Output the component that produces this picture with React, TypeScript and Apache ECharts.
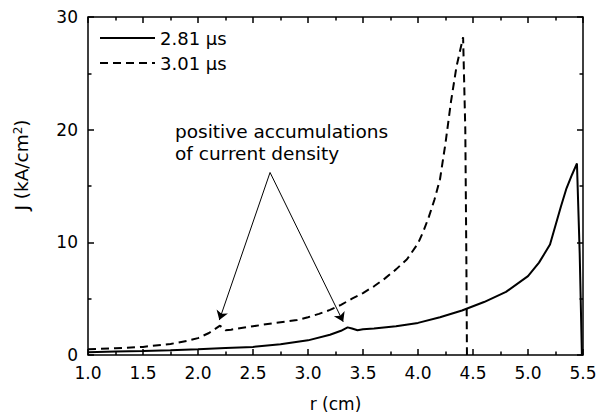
import React, { useEffect, useRef } from "react";
import * as echarts from "echarts";

// Series at 2.81 μs (solid)
const rSolid = [1.0, 1.25, 1.5, 1.75, 2.0, 2.25, 2.5, 2.75, 3.0, 3.2, 3.3, 3.36, 3.4, 3.45, 3.5, 3.6, 3.8, 4.0, 4.2, 4.4, 4.6, 4.8, 5.0, 5.1, 5.2, 5.3, 5.35, 5.4, 5.445, 5.47, 5.49];
const jSolid = [0.25, 0.3, 0.35, 0.42, 0.5, 0.62, 0.72, 0.95, 1.3, 1.8, 2.15, 2.45, 2.35, 2.2, 2.28, 2.35, 2.55, 2.85, 3.35, 3.95, 4.7, 5.6, 7.0, 8.2, 9.8, 13.2, 14.8, 16.0, 17.0, 9.0, 0.0];

// Series at 3.01 μs (dashed)
const rDashed = [1.0, 1.25, 1.5, 1.75, 1.9, 2.0, 2.1, 2.2, 2.25, 2.3, 2.5, 2.7, 2.9, 3.0, 3.1, 3.2, 3.3, 3.4, 3.5, 3.6, 3.7, 3.8, 3.9, 4.0, 4.05, 4.1, 4.15, 4.2, 4.25, 4.3, 4.35, 4.41, 4.43, 4.44, 4.445];
const jDashed = [0.5, 0.6, 0.72, 0.98, 1.25, 1.5, 1.95, 2.6, 2.2, 2.25, 2.55, 2.85, 3.1, 3.35, 3.65, 4.0, 4.45, 5.0, 5.5, 6.1, 6.8, 7.6, 8.5, 9.9, 11.0, 12.3, 13.8, 15.6, 18.8, 22.5, 25.6, 28.2, 20.0, 8.0, 0.0];

const seriesNames = ["2.81 μs", "3.01 μs"];

// Annotation arrows: [apex r, apex J] -> [tip r, tip J]
const arrowApex = [2.655, 16.2];
const arrowTips = [
  [2.194, 3.1],
  [3.32, 2.95],
];
const annotationLines = ["positive accumulations", "of current density"];

// Axis ranges and tick values
const xMin = 1.0, xMax = 5.5, xStep = 0.5;
const yMin = 0, yMax = 30, yStep = 10;
const xMajorTicks = [1.0, 1.5, 2.0, 2.5, 3.0, 3.5, 4.0, 4.5, 5.0, 5.5];
const xMinorTicks = [1.25, 1.75, 2.25, 2.75, 3.25, 3.75, 4.25, 4.75, 5.25];
const yMajorTicks = [0, 10, 20, 30];
const yMinorTicks = [5, 15, 25];

const FONT = "DejaVu Sans";
const W = 597, H = 417;
const GRID = { left: 88, right: 14, top: 17, bottom: 62 };

export default function App() {
  const ref = useRef<HTMLDivElement>(null);
  useEffect(() => {
    const chart = echarts.init(ref.current!, null, { renderer: "svg" });

    // tick lengths (pixels) converted to data units of each axis
    const plotW = W - GRID.left - GRID.right;
    const plotH = H - GRID.top - GRID.bottom;
    const dx = (px: number) => (px * (xMax - xMin)) / plotW;
    const dy = (px: number) => (px * (yMax - yMin)) / plotH;
    const MAJ = 6, MIN = 3.5;

    const tickSegments: any[] = [];
    const addX = (vals: number[], len: number) =>
      vals.forEach((v) => {
        tickSegments.push([{ coord: [v, yMin] }, { coord: [v, yMin + dy(len)] }]);
        tickSegments.push([{ coord: [v, yMax] }, { coord: [v, yMax - dy(len)] }]);
      });
    const addY = (vals: number[], len: number) =>
      vals.forEach((v) => {
        tickSegments.push([{ coord: [xMin, v] }, { coord: [xMin + dx(len), v] }]);
        tickSegments.push([{ coord: [xMax, v] }, { coord: [xMax - dx(len), v] }]);
      });
    addX(xMajorTicks, MAJ);
    addX(xMinorTicks, MIN);
    addY(yMajorTicks, MAJ);
    addY(yMinorTicks, MIN);

    const option: any = {
      animation: false,
      backgroundColor: "#fff",
      grid: {
        ...GRID,
        containLabel: false,
        outerBoundsMode: "none",
        show: true,
        borderColor: "#000",
        borderWidth: 1.5,
        backgroundColor: "transparent",
      },
      legend: {
        orient: "vertical",
        left: 94,
        top: 24,
        itemWidth: 55,
        itemHeight: 20,
        itemGap: 7,
        itemStyle: { opacity: 0 },
        textStyle: { fontFamily: FONT, fontSize: 18, color: "#000" },
        data: seriesNames,
      },
      xAxis: {
        type: "value",
        min: xMin,
        max: xMax,
        interval: xStep,
        axisLine: { show: false, onZero: false },
        axisTick: { show: false },
        splitLine: { show: false },
        name: "r (cm)",
        nameLocation: "middle",
        nameGap: 40,
        nameTextStyle: { fontFamily: FONT, fontSize: 17, color: "#000" },
        axisLabel: {
          fontFamily: FONT,
          fontSize: 17,
          color: "#000",
          margin: 9,
          formatter: (v: number) => v.toFixed(1),
        },
      },
      yAxis: {
        type: "value",
        min: yMin,
        max: yMax,
        interval: yStep,
        axisLine: { show: false, onZero: false },
        axisTick: { show: false },
        splitLine: { show: false },
        axisLabel: { fontFamily: FONT, fontSize: 17, color: "#000", margin: 10 },
      },
      series: [
        {
          name: seriesNames[0],
          type: "line",
          symbol: "none",
          showSymbol: false,
          lineStyle: { color: "#000", width: 2 },
          itemStyle: { color: "#000" },
          data: rSolid.map((r, i) => [r, jSolid[i]]),
          markLine: {
            silent: true,
            symbol: ["none", "arrow"],
            symbolSize: 9,
            label: { show: false },
            lineStyle: { color: "#000", width: 1, type: "solid" },
            data: arrowTips.map((t) => [{ coord: arrowApex }, { coord: t }]),
          },
        },
        {
          name: seriesNames[1],
          type: "line",
          symbol: "none",
          showSymbol: false,
          lineStyle: { color: "#000", width: 2, type: [8, 5] },
          itemStyle: { color: "#000" },
          data: rDashed.map((r, i) => [r, jDashed[i]]),
          markLine: {
            silent: true,
            symbol: ["none", "none"],
            label: { show: false },
            lineStyle: { color: "#000", width: 1.5, type: "solid" },
            data: tickSegments,
          },
        },
      ],
      graphic: [
        ...annotationLines.map((t, i) => ({
          type: "text",
          left: 175,
          top: 122 + i * 22,
          style: { text: t, fontFamily: FONT, fontSize: 18.5, fill: "#000" },
        })),
        {
          type: "text",
          x: 21,
          y: 165,
          rotation: Math.PI / 2,
          style: {
            text: "{a|J (kA/cm}{b|2}{a|)}",
            align: "center",
            verticalAlign: "middle",
            rich: {
              a: { fontFamily: FONT, fontSize: 18.5, color: "#000" },
              b: { fontFamily: FONT, fontSize: 12, color: "#000", verticalAlign: "top" },
            },
          },
        },
      ],
    };
    chart.setOption(option);
    return () => chart.dispose();
  }, []);
  return <div ref={ref} style={{ position: "absolute", left: 0, top: 0, width: W, height: H }} />;
}
